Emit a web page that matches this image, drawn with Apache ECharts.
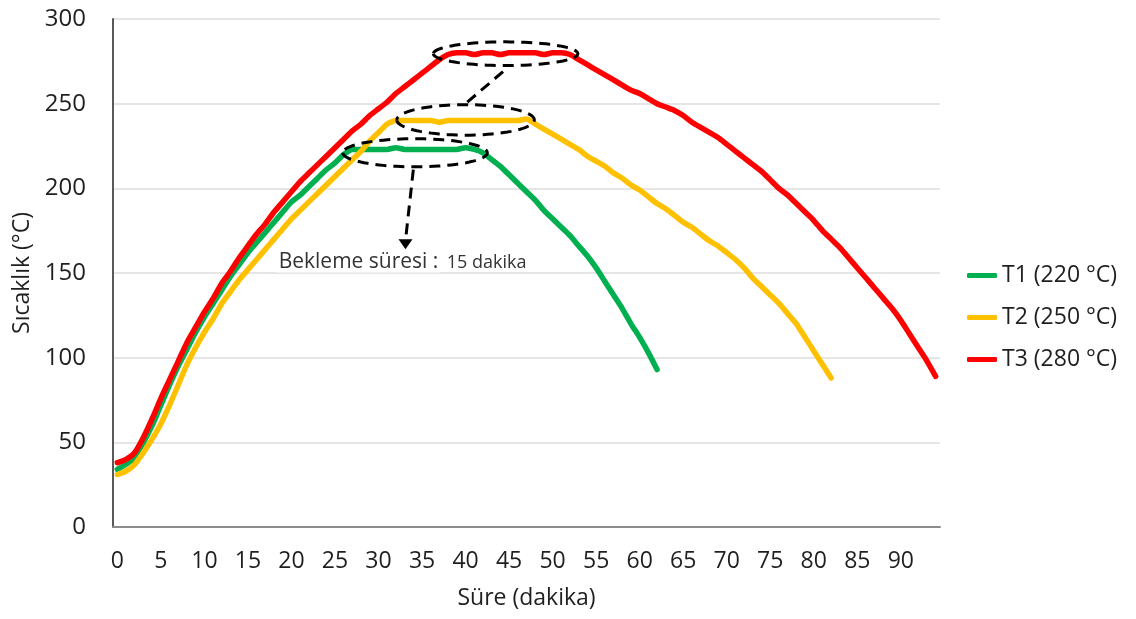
<!DOCTYPE html>
<html><head><meta charset="utf-8">
<script src="https://cdn.jsdelivr.net/npm/echarts@6/dist/echarts.min.js"></script>
<style>html,body{margin:0;padding:0;background:#fff}#c{width:1136px;height:619px}</style>
</head><body><div id="c"></div>
<script>
// ---- data ----
const minutes = ['0','1','2','3','4','5','6','7','8','9','10','11','12','13','14','15','16','17','18','19',
  '20','21','22','23','24','25','26','27','28','29','30','31','32','33','34','35','36','37','38','39',
  '40','41','42','43','44','45','46','47','48','49','50','51','52','53','54','55','56','57','58','59',
  '60','61','62','63','64','65','66','67','68','69','70','71','72','73','74','75','76','77','78','79',
  '80','81','82','83','84','85','86','87','88','89','90','91','92','93','94'];

const seriesNames = ['T1 (220 °C)', 'T2 (250 °C)', 'T3 (280 °C)'];

const t1 = [34,37,41,50,60,72,84,95,105,115,124,132,140,148,155,162,168,174,180,186,
  192,196,201,206,211,215,220,223,223,223,223,223,224,223,223,223,223,223,223,223,
  224,223,221,217,213,208,203,198,193,187,182,177,172,166,160,153,145,137,129,120,
  112,103,93];

const t2 = [31,33,37,44,52,61,72,84,96,106,115,123,132,139,146,152,158,164,170,176,
  182,187,192,197,202,207,212,217,222,228,233,238,240,240,240,240,240,239,240,240,
  240,240,240,240,240,240,240,241,238,235,232,229,226,223,219,216,213,209,206,202,
  199,195,191,188,184,180,177,173,169,166,162,158,153,147,142,137,132,126,120,112,
  104,96,88];

const t3 = [38,40,44,53,64,76,87,98,109,118,127,135,144,151,159,166,173,179,186,192,
  198,204,209,214,219,224,229,234,238,243,247,251,256,260,264,268,272,276,279,280,
  280,279,280,280,279,280,280,280,280,279,280,280,279,276,273,270,267,264,261,258,
  256,253,250,248,246,243,239,236,233,230,226,222,218,214,210,205,200,196,191,186,
  181,175,170,165,159,153,147,141,135,129,122,114,106,98,89];

const yTicks = [0, 50, 100, 150, 200, 250, 300];

// annotation anchors (in data units: minute index, °C)
const ellipses = [
  {cx: 44.6, cy: 279.5, rx: 8.3, ry: 7.0},
  {cx: 40.0, cy: 240.4, rx: 7.9, ry: 9.0},
  {cx: 34.2, cy: 221.0, rx: 8.3, ry: 8.3}
];
const connector = {from: [40.2, 250.9], to: [44.8, 271.1]};
const arrow = {from: [34.0, 211.0], to: [33.1, 164.0]};
const noteMain = {text: 'Bekleme süresi :', at: [18.3, 156.5]};
const noteSub = {text: '15 dakika', at: [37.6, 156.0]};

// ---- chart ----
const FONT = "'Open Sans', 'Noto Sans', sans-serif";
const TXT = '#1f1f1f';
const colors = ['#00B050', '#FFC000', '#FF0000'];
const chart = echarts.init(document.getElementById('c'), null, {renderer: 'canvas'});

const option = {
  backgroundColor: '#fff',
  animation: false,
  textStyle: {fontFamily: FONT},
  grid: {left: 113, right: 196, top: 19, bottom: 92, containLabel: false},
  legend: {
    orient: 'vertical', left: 962, top: 259, itemGap: 19,
    icon: 'roundRect', itemWidth: 30, itemHeight: 5,
    textStyle: {fontFamily: FONT, fontSize: 23, color: TXT},
    data: seriesNames
  },
  xAxis: {
    type: 'category', data: minutes, boundaryGap: true,
    name: 'Süre (dakika)', nameLocation: 'middle', nameGap: 60,
    nameTextStyle: {fontFamily: FONT, fontSize: 23, color: TXT},
    axisLine: {show: true, lineStyle: {color: '#8c8c8c', width: 2}},
    axisTick: {show: false},
    axisLabel: {interval: 4, margin: 23, fontSize: 23, color: TXT, fontFamily: FONT},
    splitLine: {show: false}
  },
  yAxis: {
    type: 'value', min: 0, max: 300, interval: 50,
    name: 'Sıcaklık (°C)', nameLocation: 'middle', nameGap: 78, nameRotate: 90,
    nameTextStyle: {fontFamily: FONT, fontSize: 23, color: TXT},
    axisLine: {show: true, lineStyle: {color: '#595959', width: 2}},
    axisTick: {show: false},
    axisLabel: {margin: 27, fontSize: 24, color: TXT, fontFamily: FONT,
      formatter: v => (yTicks.indexOf(v) >= 0 ? String(v) : '')},
    splitLine: {show: true, lineStyle: {color: '#dcdcdc', width: 1.5}}
  },
  series: [t1, t2, t3].map((d, i) => ({
    name: seriesNames[i], type: 'line', data: d, showSymbol: false, symbol: 'none',
    smooth: 0.2,
    lineStyle: {color: colors[i], width: 5.5, cap: 'round', join: 'round'},
    itemStyle: {color: colors[i]},
    z: 2 + i
  }))
};
chart.setOption(option);

// build annotation graphics from data-unit anchors
const p0 = chart.convertToPixel({gridIndex: 0}, [0, 0]);
const p1 = chart.convertToPixel({gridIndex: 0}, [10, 300]);
const sx = (p1[0] - p0[0]) / 10, sy = (p1[1] - p0[1]) / 300;
const px = (c, v) => [p0[0] + c * sx, p0[1] + v * sy];

const dashStyle = {stroke: '#000', lineWidth: 3, lineDash: [11, 7], fill: null};
const graphics = [];
ellipses.forEach(e => {
  const pts = [];
  for (let k = 0; k <= 96; k++) {
    const a = Math.PI + k / 96 * Math.PI * 2;
    pts.push(px(e.cx + e.rx * Math.cos(a), e.cy + e.ry * Math.sin(a)));
  }
  graphics.push({type: 'polyline', shape: {points: pts}, style: dashStyle, z: 100});
});
const cA = px(...connector.from), cB = px(...connector.to);
graphics.push({type: 'line', shape: {x1: cA[0], y1: cA[1], x2: cB[0], y2: cB[1]}, style: dashStyle, z: 100});
const aA = px(...arrow.from), aB = px(...arrow.to);
graphics.push({type: 'line', shape: {x1: aA[0], y1: aA[1], x2: aB[0], y2: aB[1] - 9}, style: dashStyle, z: 100});
graphics.push({type: 'polygon', shape: {points: [[aB[0] - 7, aB[1] - 10], [aB[0] + 7, aB[1] - 10], [aB[0], aB[1]]]},
  style: {fill: '#000'}, z: 100});
const nm = px(...noteMain.at), ns = px(...noteSub.at);
graphics.push({type: 'text', x: nm[0], y: nm[1], z: 101,
  style: {text: noteMain.text, font: '21px ' + FONT, fill: '#333', verticalAlign: 'middle', align: 'left',
    backgroundColor: '#fff', padding: [0, 2]}});
graphics.push({type: 'text', x: ns[0], y: ns[1], z: 101,
  style: {text: noteSub.text, font: '18px ' + FONT, fill: '#333', verticalAlign: 'middle', align: 'left',
    backgroundColor: '#fff', padding: [0, 2]}});
chart.setOption({graphic: graphics});
</script>
</body></html>
